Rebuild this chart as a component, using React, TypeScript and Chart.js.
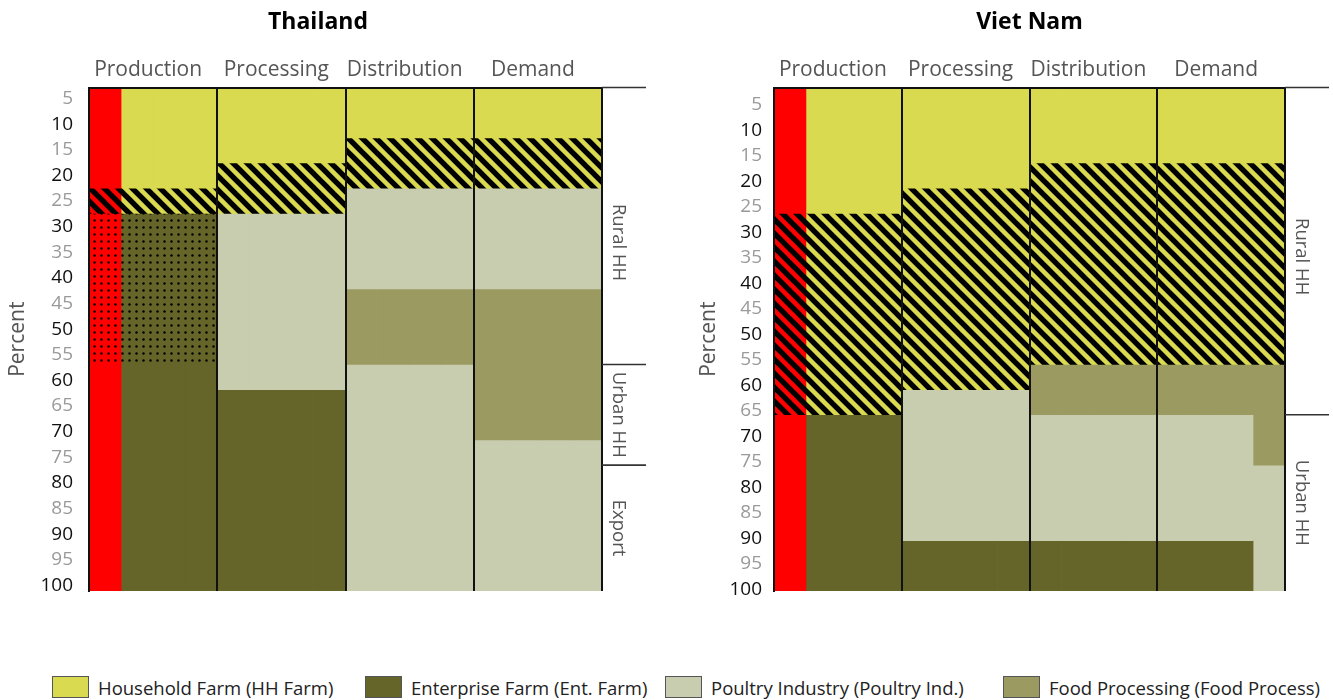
import React, { useEffect, useRef } from 'react';
import { Chart, registerables } from 'chart.js';

Chart.register(...registerables);
Chart.defaults.font.family = "'Open Sans', 'Noto Sans', 'DejaVu Sans', sans-serif";

// ---------- data ----------
const stages = ['Production', 'Processing', 'Distribution', 'Demand'];
const yTickLabels = [5, 10, 15, 20, 25, 30, 35, 40, 45, 50, 55, 60, 65, 70, 75, 80, 85, 90, 95, 100];

// Thailand: cumulative percent boundaries (from top) and the fill of each segment
const thRedStripBounds = [0, 20, 25, 55, 100];
const thRedStripFills = ['red', 'redHatch', 'redDot', 'red'];
const thProductionBounds = [0, 20, 25, 55, 100];
const thProductionFills = ['hh', 'hhHatch', 'entDot', 'ent'];
const thProcessingBounds = [0, 15, 25, 60, 100];
const thProcessingFills = ['hh', 'hhHatch', 'poultry', 'ent'];
const thDistributionBounds = [0, 10, 20, 40, 55, 100];
const thDistributionFills = ['hh', 'hhHatch', 'poultry', 'food', 'poultry'];
const thDemandBounds = [0, 10, 20, 40, 70, 100];
const thDemandFills = ['hh', 'hhHatch', 'poultry', 'food', 'poultry'];
const thGroupBounds = [0, 55, 75, 100];
const thGroupLabels = ['Rural HH', 'Urban HH', 'Export'];
const thGroupLabelAt = [30.8, 65, 87.5];

// Viet Nam
const vnRedStripBounds = [0, 25, 65, 100];
const vnRedStripFills = ['red', 'redHatch', 'red'];
const vnProductionBounds = [0, 25, 65, 100];
const vnProductionFills = ['hh', 'hhHatch', 'ent'];
const vnProcessingBounds = [0, 20, 60, 90, 100];
const vnProcessingFills = ['hh', 'hhHatch', 'poultry', 'ent'];
const vnDistributionBounds = [0, 15, 55, 65, 90, 100];
const vnDistributionFills = ['hh', 'hhHatch', 'food', 'poultry', 'ent'];
const vnDemandBounds = [0, 15, 55, 65, 90, 100];
const vnDemandFills = ['hh', 'hhHatch', 'food', 'poultry', 'ent'];
const vnDemandEdgeBounds = [0, 15, 55, 75, 100];
const vnDemandEdgeFills = ['hh', 'hhHatch', 'food', 'poultry'];
const vnGroupBounds = [0, 65, 100];
const vnGroupLabels = ['Rural HH', 'Urban HH'];
const vnGroupLabelAt = [33.6, 82.5];

const legendKeys = ['hh', 'ent', 'poultry', 'food'];
const legendLabels = [
  'Household Farm (HH Farm)',
  'Enterprise Farm (Ent. Farm)',
  'Poultry Industry (Poultry Ind.)',
  'Food Processing (Food Process)',
];

// ---------- styles ----------
const baseColors: Record<string, string> = {
  hh: '#D9DA4F',
  ent: '#65652A',
  poultry: '#C8CDAF',
  food: '#9B9A60',
  red: '#FF0000',
};

const SLOTS = 4; // sub-slots per stage
const slotLabels = stages.flatMap((s) => Array.from({ length: SLOTS }, (_, k) => `${s} ${k + 1}`));

function hatchPattern(base: string): CanvasPattern {
  const T = 14;
  const c = document.createElement('canvas');
  c.width = T;
  c.height = T;
  const g = c.getContext('2d')!;
  g.fillStyle = base;
  g.fillRect(0, 0, T, T);
  g.strokeStyle = '#000';
  g.lineWidth = 5.4;
  for (const o of [-T, 0, T]) {
    g.beginPath();
    g.moveTo(o - 3, -3);
    g.lineTo(o + T + 3, T + 3);
    g.stroke();
  }
  return g.createPattern(c, 'repeat')!;
}

function dotPattern(base: string): CanvasPattern {
  const T = 7;
  const c = document.createElement('canvas');
  c.width = T;
  c.height = T;
  const g = c.getContext('2d')!;
  g.fillStyle = base;
  g.fillRect(0, 0, T, T);
  g.fillStyle = '#000';
  g.beginPath();
  g.arc(3.5, 3.5, 1.2, 0, Math.PI * 2);
  g.fill();
  return g.createPattern(c, 'repeat')!;
}

function makeFills(): Record<string, string | CanvasPattern> {
  return {
    hh: baseColors.hh,
    ent: baseColors.ent,
    poultry: baseColors.poultry,
    food: baseColors.food,
    red: baseColors.red,
    hhHatch: hatchPattern(baseColors.hh),
    redHatch: hatchPattern(baseColors.red),
    entDot: dotPattern(baseColors.ent),
    redDot: dotPattern(baseColors.red),
  };
}

type Piece = { slots: [number, number]; bounds: number[]; fills: string[] };

const thPieces: Piece[] = [
  { slots: [0, 1], bounds: thRedStripBounds, fills: thRedStripFills },
  { slots: [1, 4], bounds: thProductionBounds, fills: thProductionFills },
  { slots: [4, 8], bounds: thProcessingBounds, fills: thProcessingFills },
  { slots: [8, 12], bounds: thDistributionBounds, fills: thDistributionFills },
  { slots: [12, 16], bounds: thDemandBounds, fills: thDemandFills },
];

const vnPieces: Piece[] = [
  { slots: [0, 1], bounds: vnRedStripBounds, fills: vnRedStripFills },
  { slots: [1, 4], bounds: vnProductionBounds, fills: vnProductionFills },
  { slots: [4, 8], bounds: vnProcessingBounds, fills: vnProcessingFills },
  { slots: [8, 12], bounds: vnDistributionBounds, fills: vnDistributionFills },
  { slots: [12, 15], bounds: vnDemandBounds, fills: vnDemandFills },
  { slots: [15, 16], bounds: vnDemandEdgeBounds, fills: vnDemandEdgeFills },
];

type PanelProps = {
  title: string;
  pieces: Piece[];
  groupBounds: number[];
  groupLabels: string[];
  groupLabelAt: number[];
  left: number;
  width: number;
  padLeft: number;
  yWidth: number;
  rightPad: number;
  tickPad: number;
  titlePad: number;
  tickStart: number;
  tickEnd: number;
  titleFullSize: boolean;
};

const CANVAS_H = 600;
const TITLE_SIZE = 23;
const TITLE_H = TITLE_SIZE * 1.2 + 9;
const PLOT_TOP = 87.5;
const PLOT_BOTTOM = 591;

function Panel(p: PanelProps) {
  const ref = useRef<HTMLCanvasElement>(null);

  useEffect(() => {
    if (!ref.current) return;
    const fills = makeFills();
    const datasets: any[] = [];
    p.pieces.forEach((piece) => {
      piece.bounds.slice(0, -1).forEach((b, i) => {
        const data = slotLabels.map((_, s) =>
          s >= piece.slots[0] && s < piece.slots[1] ? [b, piece.bounds[i + 1]] : null
        );
        datasets.push({
          label: piece.fills[i],
          data,
          backgroundColor: fills[piece.fills[i]],
          borderWidth: 0,
        });
      });
    });

    // tick labels are spread slightly wider than 5-unit bands in the original
    const tickValue = (label: number) => p.tickStart + (label - 5) * ((p.tickEnd - p.tickStart) / 95);

    const brackets = {
      id: 'sideBrackets',
      afterDraw(chart: any) {
        const { ctx, chartArea, scales } = chart;
        const y = scales.y;
        ctx.save();
        ctx.strokeStyle = '#333';
        ctx.lineWidth = 1.6;
        p.groupBounds.slice(0, -1).forEach((b) => {
          const py = y.getPixelForValue(b);
          ctx.beginPath();
          ctx.moveTo(chartArea.right, py);
          ctx.lineTo(chartArea.right + 44, py);
          ctx.stroke();
        });
        ctx.fillStyle = '#555';
        ctx.font = "18.5px 'Open Sans', 'Noto Sans', sans-serif";
        ctx.textAlign = 'center';
        ctx.textBaseline = 'middle';
        p.groupLabels.forEach((lab, i) => {
          const py = y.getPixelForValue(p.groupLabelAt[i]);
          ctx.save();
          ctx.translate(chartArea.right + 16, py);
          ctx.rotate(Math.PI / 2);
          ctx.fillText(lab, 0, 0);
          ctx.restore();
        });
        ctx.restore();
      },
    };

    const chart = new Chart(ref.current, {
      type: 'bar',
      data: { labels: slotLabels, datasets },
      plugins: [brackets],
      options: {
        animation: false,
        responsive: false,
        maintainAspectRatio: false,
        events: [],
        layout: { padding: { left: p.padLeft, top: 0, right: p.rightPad, bottom: CANVAS_H - PLOT_BOTTOM } },
        datasets: {
          bar: { grouped: false, barPercentage: 1, categoryPercentage: 1 } as any,
        },
        plugins: {
          legend: { display: false },
          tooltip: { enabled: false },
          title: {
            display: true,
            text: p.title,
            color: '#000',
            font: { size: TITLE_SIZE, weight: 'bold' },
            padding: { top: 9, bottom: 0 },
            fullSize: p.titleFullSize,
          },
        },
        scales: {
          x: {
            type: 'category',
            display: false,
            offset: true,
          },
          x2: {
            type: 'category',
            position: 'top',
            labels: stages,
            offset: true,
            grid: { display: true, color: '#111', lineWidth: 2, drawTicks: false, offset: true, drawOnChartArea: true, z: 1 },
            border: { display: true, color: '#111', width: 2, z: 1 },
            ticks: { color: '#555', font: { size: 21 }, padding: 5, labelOffset: -5, autoSkip: false, maxRotation: 0 },
            afterFit: (s: any) => {
              s.height = PLOT_TOP - TITLE_H;
              s.paddingLeft = 0;
              s.paddingRight = 0;
            },
          } as any,
          y: {
            type: 'linear',
            min: 0,
            max: 100,
            reverse: true,
            position: 'left',
            afterBuildTicks: (s: any) => {
              s.ticks = yTickLabels.map((l) => ({ value: tickValue(l) }));
            },
            afterFit: (s: any) => {
              s.width = p.yWidth;
              s.paddingTop = 0;
              s.paddingBottom = 0;
            },
            grid: { display: false, drawTicks: false },
            border: { display: true, color: '#111', width: 2, z: 1 },
            ticks: {
              autoSkip: false,
              padding: p.tickPad,
              font: { size: 19 },
              color: (c: any) => (yTickLabels[c.index] % 10 === 0 ? '#111' : '#9a9a9a'),
              callback: (_v: any, i: number) => String(yTickLabels[i]),
            },
            title: {
              display: true,
              text: 'Percent',
              color: '#555',
              font: { size: 21 },
              padding: { top: p.titlePad, bottom: 0 },
            },
          } as any,
        },
      },
    });
    return () => chart.destroy();
  }, []);

  return (
    <canvas
      ref={ref}
      width={p.width}
      height={CANVAS_H}
      style={{ position: 'absolute', left: p.left, top: 0, width: p.width, height: CANVAS_H }}
    />
  );
}

const legendLefts = [52, 365, 665, 1003];

export default function App() {
  return (
    <div style={{ position: 'absolute', left: 0, top: 0, width: 1333, height: 700, background: '#fff', overflow: 'hidden' }}>
      <Panel
        title="Thailand"
        pieces={thPieces}
        groupBounds={thGroupBounds}
        groupLabels={thGroupLabels}
        groupLabelAt={thGroupLabelAt}
        left={0}
        width={650}
        padLeft={34}
        yWidth={55}
        rightPad={48}
        tickPad={16}
        titlePad={-28.6}
        tickStart={2.2}
        tickEnd={98.9}
        titleFullSize={true}
      />
      <Panel
        title="Viet Nam"
        pieces={vnPieces}
        groupBounds={vnGroupBounds}
        groupLabels={vnGroupLabels}
        groupLabelAt={vnGroupLabelAt}
        left={667}
        width={666}
        padLeft={0}
        yWidth={107}
        rightPad={48}
        tickPad={12}
        titlePad={29}
        tickStart={3.4}
        tickEnd={99.7}
        titleFullSize={false}
      />
      {legendLabels.map((lab, i) => (
        <div
          key={lab}
          style={{
            position: 'absolute',
            left: legendLefts[i],
            top: 675,
            height: 24,
            display: 'flex',
            alignItems: 'center',
            gap: 9,
          }}
        >
          <span
            style={{
              display: 'inline-block',
              width: 35,
              height: 20,
              background: baseColors[legendKeys[i]],
              border: '1.5px solid #555',
            }}
          />
          <span style={{ font: "18.5px 'Open Sans', 'Noto Sans', sans-serif", color: '#222', whiteSpace: 'nowrap' }}>{lab}</span>
        </div>
      ))}
    </div>
  );
}
